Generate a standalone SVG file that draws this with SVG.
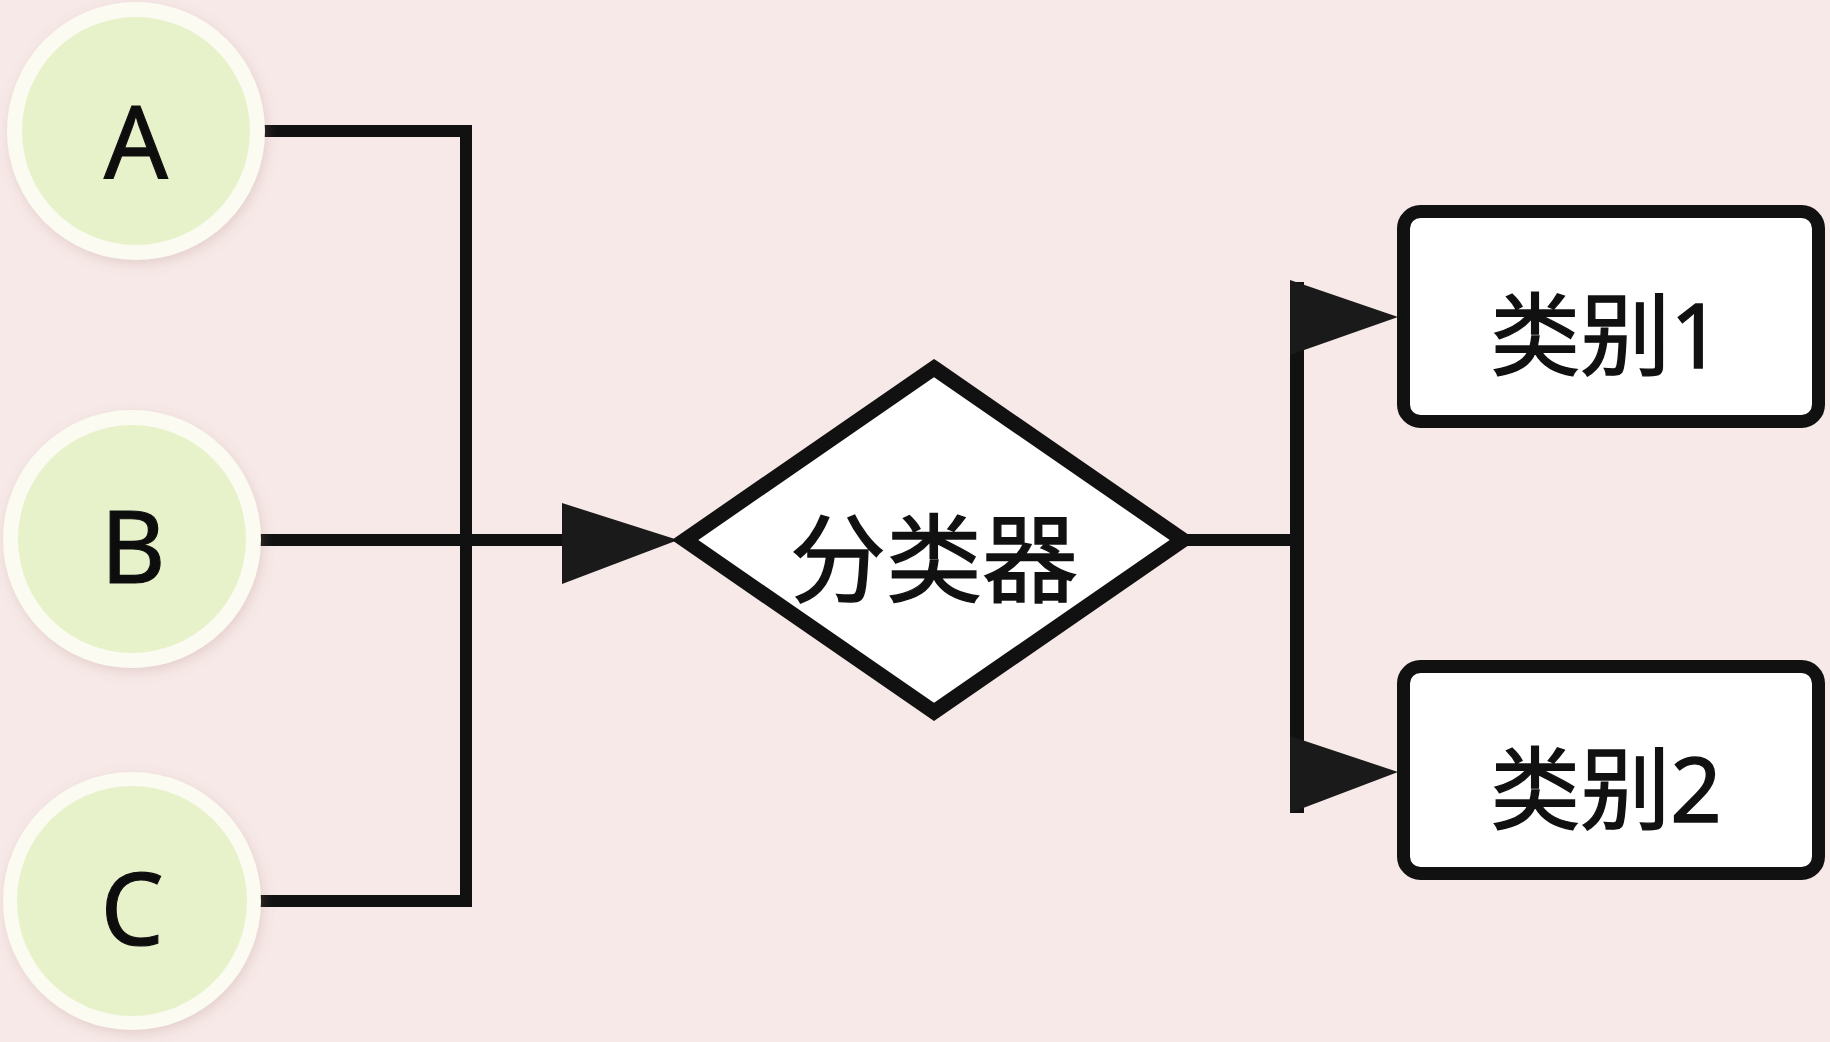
<svg xmlns="http://www.w3.org/2000/svg" width="1830" height="1042" viewBox="0 0 1830 1042">
<style>
.bg{fill:#f6e9e7}
.ring{fill:#fbfbf1}
.inner{fill:#e7f2cb}
.letter{font-family:"Noto Sans","Liberation Sans",sans-serif;font-size:100px;fill:#111;stroke:#111;stroke-width:1.2;text-anchor:middle}
.cjk{font-family:"Noto Sans CJK SC","Noto Sans",sans-serif;fill:#111;stroke:#111;stroke-width:1.4;text-anchor:middle}
.digit{font-family:"Noto Sans","Liberation Sans",sans-serif}
.shape{fill:#ffffff;stroke:#111;stroke-width:13;stroke-linejoin:miter}
.wire{fill:none;stroke:#111;stroke-width:12;stroke-linecap:butt;stroke-linejoin:miter}
.head{fill:#1a1a1a}
</style>
<defs>
<radialGradient id="bgGrad" cx="0.5" cy="0.5" r="0.75">
<stop offset="0" stop-color="#f7ebe9"/>
<stop offset="1" stop-color="#f4e4e2"/>
</radialGradient>
<filter id="soft" x="-20%" y="-20%" width="140%" height="140%">
<feDropShadow dx="2" dy="4" stdDeviation="6" flood-color="#b08080" flood-opacity="0.25"/>
</filter>
</defs>
<rect class="bg" x="0" y="0" width="1830" height="1042" fill="url(#bgGrad)"/>

<g id="connectors">
<polyline class="wire" points="257,131 466,131 466,901 248,901"/>
<line class="wire" x1="248" y1="540" x2="566" y2="540"/>
<polygon class="head" points="562,503 562,584 678,540"/>
<line class="wire" x1="1183" y1="540" x2="1297" y2="540"/>
<line class="wire" x1="1297" y1="282" x2="1297" y2="813" style="stroke-width:14"/>
<polygon class="head" points="1290,280 1290,355 1398,317"/>
<polygon class="head" points="1290,736 1290,813 1398,772"/>
</g>

<g id="node-A" filter="url(#soft)">
<circle class="ring" cx="136" cy="131" r="129"/>
<circle class="inner" cx="136" cy="131" r="114"/>
<text class="letter" x="136" y="178">A</text>
</g>
<g id="node-B" filter="url(#soft)">
<circle class="ring" cx="132" cy="539" r="129"/>
<circle class="inner" cx="132" cy="539" r="114"/>
<text class="letter" x="133" y="583">B</text>
</g>
<g id="node-C" filter="url(#soft)">
<circle class="ring" cx="132" cy="901" r="129"/>
<circle class="inner" cx="132" cy="901" r="115"/>
<text class="letter" x="132" y="945">C</text>
</g>

<g id="node-classifier">
<polygon class="shape" points="934,368 1183,540 934,712 685,540" style="stroke-width:15"/>
<text class="cjk" x="934" y="594" font-size="96">分类器</text>
</g>

<g id="node-class1">
<rect class="shape" x="1403.5" y="211.5" width="415" height="210" rx="17"/>
<text class="cjk" x="1606" y="368" font-size="90">类别<tspan class="digit">1</tspan></text>
</g>
<g id="node-class2">
<rect class="shape" x="1403.5" y="666.5" width="415" height="207" rx="17"/>
<text class="cjk" x="1606" y="822" font-size="90">类别<tspan class="digit">2</tspan></text>
</g>
</svg>
